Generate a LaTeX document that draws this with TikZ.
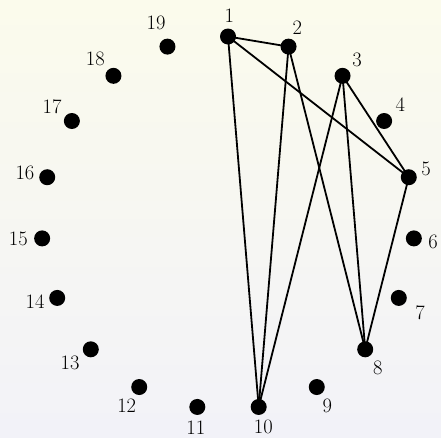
\documentclass[tikz,border=0pt]{standalone}
\begin{document}
\begin{tikzpicture}[x=1pt,y=1pt,
  vtx/.style={circle,fill=black,inner sep=0pt,minimum size=16pt},
  lbl/.style={inner sep=0pt,font=\fontsize{20.5}{24}\selectfont},
  edge/.style={line width=1.8pt}]
\definecolor{bgtop}{RGB}{251,251,236}
\definecolor{bgbot}{RGB}{242,242,248}
\shade[top color=bgtop,bottom color=bgbot] (0,0) rectangle (441,-437);
\useasboundingbox (0,0) rectangle (441,-437);
\foreach \k in {1,...,19}{
  \pgfmathsetmacro{\ang}{90-(\k-1)*360/19}
  \node[vtx] (v\k) at ({228+186.5*cos(\ang)},{-223+186.5*sin(\ang)}) {};
}
\foreach \k/\x/\y in {1/229.3/16, 2/297.3/27.5, 3/357/60, 4/400.3/104.3, 5/426/169.3,
  6/433/242, 7/420/312.3, 8/377.7/368.3, 9/327.3/405.7, 10/263.3/426.7,
  11/195.8/427.5, 12/126.7/406, 13/70/363.3, 14/35/301.7, 15/18.3/239.3,
  16/25/173.3, 17/52/106.7, 18/95.3/59, 19/156/23.3}{
  \node[lbl] (l\k) at (\x,-\y) {\k};
}
\foreach \a/\b in {1/2,1/5,1/10,2/8,2/10,3/5,3/8,3/10,5/8}{
  \draw[edge] (v\a.center) -- (v\b.center);
}
\end{tikzpicture}
\end{document}
